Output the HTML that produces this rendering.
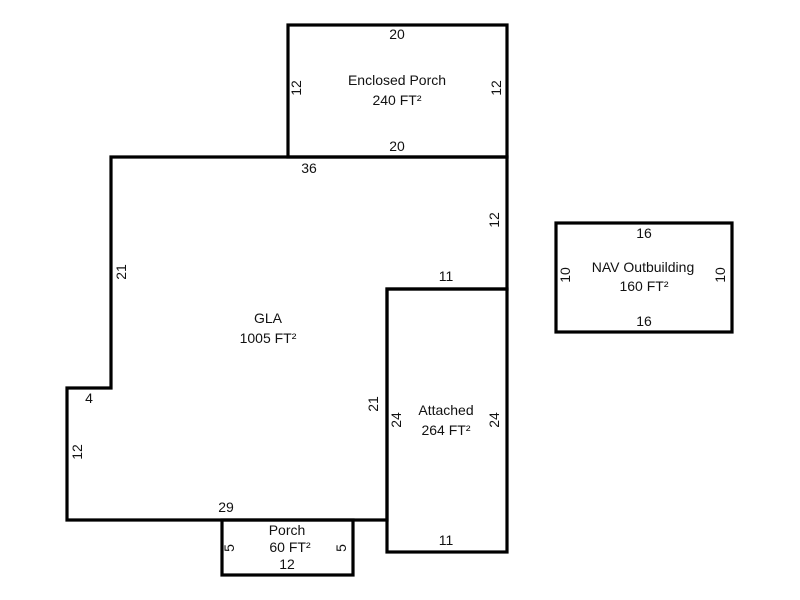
<!DOCTYPE html>
<html><head><style>body{margin:0;background:#fff}svg{display:block}text{font-family:"Liberation Sans",Arial,sans-serif;font-size:14px;fill:#111}</style></head>
<body>
<svg width="800" height="600" viewBox="0 0 800 600" xmlns="http://www.w3.org/2000/svg">
<g fill="none" stroke="#000" stroke-width="3.2" stroke-linecap="square">
<rect x="288" y="25" width="219" height="132"/>
<polygon points="111,157 507,157 507,289 387,289 387,520 67,520 67,388 111,388"/>
<rect x="387" y="289" width="120" height="263"/>
<rect x="222" y="520" width="131" height="55"/>
<rect x="556" y="223" width="176" height="109"/>
</g>
<g text-anchor="middle">
<text x="397" y="39">20</text>
<text x="397" y="85">Enclosed Porch</text>
<text x="397" y="105">240 FT²</text>
<text x="397" y="151">20</text>
<text x="309" y="173">36</text>
<text x="446" y="281">11</text>
<text x="268" y="323">GLA</text>
<text x="268" y="343">1005 FT²</text>
<text x="89" y="403">4</text>
<text x="226" y="512">29</text>
<text x="446" y="415">Attached</text>
<text x="446" y="435">264 FT²</text>
<text x="446" y="545">11</text>
<text x="287" y="535">Porch</text>
<text x="290" y="552">60 FT²</text>
<text x="287" y="569">12</text>
<text x="644" y="238">16</text>
<text x="643" y="272">NAV Outbuilding</text>
<text x="644" y="291">160 FT²</text>
<text x="644" y="326">16</text>
<text transform="translate(301,88) rotate(-90)">12</text>
<text transform="translate(501,88) rotate(-90)">12</text>
<text transform="translate(499,220) rotate(-90)">12</text>
<text transform="translate(126,272) rotate(-90)">21</text>
<text transform="translate(378,404) rotate(-90)">21</text>
<text transform="translate(401,420) rotate(-90)">24</text>
<text transform="translate(499,420) rotate(-90)">24</text>
<text transform="translate(82,452) rotate(-90)">12</text>
<text transform="translate(234,548) rotate(-90)">5</text>
<text transform="translate(346,548) rotate(-90)">5</text>
<text transform="translate(570,275) rotate(-90)">10</text>
<text transform="translate(725,275) rotate(-90)">10</text>
</g>
</svg>
</body></html>
